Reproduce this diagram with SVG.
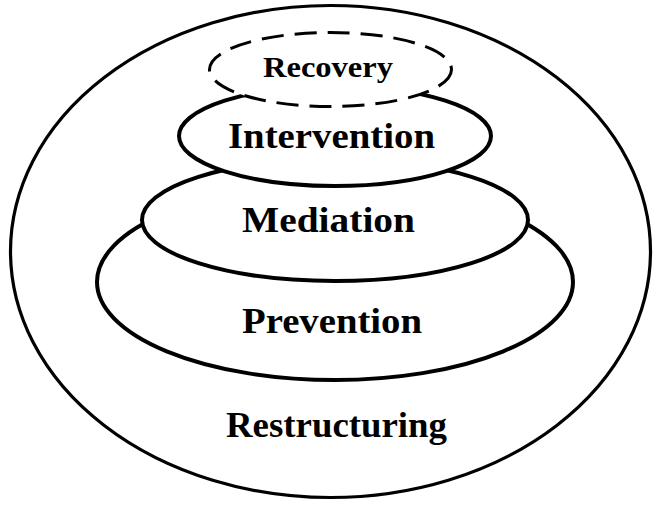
<svg xmlns="http://www.w3.org/2000/svg" width="657" height="505" viewBox="0 0 657 505">
  <style>
    .ring { fill: #fff; stroke: #000; stroke-width: 4; }
    .outer { fill: #fff; stroke: #000; stroke-width: 3.2; }
    .dashed { fill: #fff; stroke: #000; stroke-width: 3; stroke-dasharray: 22 11; }
    .label { font-family: "Liberation Serif", "DejaVu Serif", serif; font-weight: bold; fill: #000; text-anchor: middle; }
  </style>
  <rect width="657" height="505" fill="#fff"/>

  <!-- outermost layer, drawn first so the stacked ellipses sit on it -->
  <g id="restructuring">
    <ellipse class="outer" cx="330.5" cy="251.5" rx="320" ry="246"/>
    <text class="label" x="336.5" y="437" font-size="35" textLength="221" lengthAdjust="spacingAndGlyphs">Restructuring</text>
  </g>

  <g id="prevention">
    <ellipse class="ring" cx="335" cy="282" rx="238" ry="98"/>
    <text class="label" x="332" y="333" font-size="36" textLength="180" lengthAdjust="spacingAndGlyphs">Prevention</text>
  </g>

  <g id="mediation">
    <ellipse class="ring" cx="335" cy="220" rx="193" ry="61"/>
    <text class="label" x="328.5" y="232" font-size="36" textLength="173" lengthAdjust="spacingAndGlyphs">Mediation</text>
  </g>

  <g id="intervention">
    <ellipse class="ring" cx="335" cy="136" rx="156" ry="50"/>
    <text class="label" x="331.5" y="148" font-size="36" textLength="207" lengthAdjust="spacingAndGlyphs">Intervention</text>
  </g>

  <!-- top layer, dashed outline -->
  <g id="recovery">
    <ellipse class="dashed" cx="330.5" cy="69.5" rx="121" ry="37"/>
    <text class="label" x="328" y="77" font-size="29" textLength="130" lengthAdjust="spacingAndGlyphs">Recovery</text>
  </g>

  <g id="connectors"></g>
</svg>
